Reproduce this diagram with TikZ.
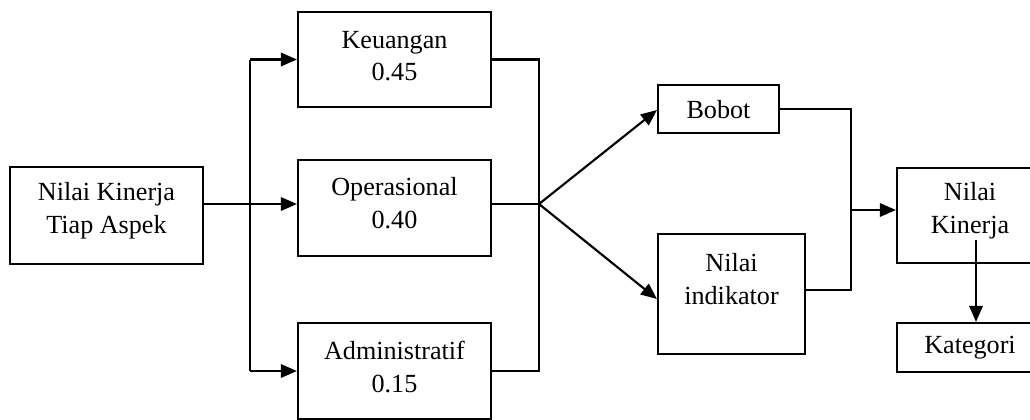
\documentclass[tikz,border=0pt]{standalone}
\usepackage{fontspec}
\setmainfont{Liberation Serif}
\usetikzlibrary{arrows.meta,calc}
\begin{document}
\begin{tikzpicture}[x=0.75pt,y=-0.75pt,
  box/.style={draw,line width=1.6pt,inner sep=0pt,align=center,font=\fontsize{19.6}{24.5}\selectfont},
  txt/.style={inner sep=0pt,align=center,font=\fontsize{19.6}{24.5}\selectfont},
  con/.style={line width=1.6pt},
  arr/.style={line width=1.6pt,-{Triangle[length=12pt,width=10pt]}}]
\useasboundingbox (0,0) rectangle (1030,419);
\clip (0,0) rectangle (1030,419);
\fill[white] (0,0) rectangle (1030,419);
% boxes
\node[box,minimum width=144.75pt,minimum height=72.75pt] (A) at (106.5,215.5) {};
\node[txt] (At) at (106.5,211) {Nilai Kinerja\\Tiap Aspek};
\node[box,minimum width=144.75pt,minimum height=71.25pt] (K) at (394.5,59.5) {};
\node[txt] (Kt) at (394.5,56) {Keuangan\\0.45};
\node[box,minimum width=144.75pt,minimum height=72pt] (O) at (394.5,208) {};
\node[txt] (Ot) at (394.5,203) {Operasional\\0.40};
\node[box,minimum width=144.75pt,minimum height=72pt] (Ad) at (394.5,371) {};
\node[txt] (Adt) at (394.5,367) {Administratif\\0.15};
\node[box,minimum width=90.75pt,minimum height=36pt] (Bo) at (718.5,109) {};
\node[txt] (Bot) at (718.5,110) {Bobot};
\node[box,minimum width=110.25pt,minimum height=90pt] (NI) at (731.5,294) {};
\node[txt] (NIt) at (731.5,279) {Nilai\\indikator};
\node[box,minimum width=109.5pt,minimum height=71.25pt] (NK) at (970,215.5) {};
\node[txt] (NKt) at (970,211) {Nilai\\Kinerja};
\node[box,minimum width=109.5pt,minimum height=36.75pt] (Kat) at (970,347.5) {};
\node[txt] (Katt) at (970,348) {Kategori};
% junctions
\coordinate (b1) at (250,204);
\coordinate (m1) at (539,204);
\coordinate (m2) at (851,210);
\coordinate (nk) at (976,240);
% connectors
\draw[con] (A.east |- b1) -- (b1);
\draw[arr] (b1) -- (O.west |- b1);
\draw[con] (b1 |- K.west) -- (b1 |- Ad.west);
\draw[arr] (b1 |- K.west) -- (K.west);
\draw[arr] (b1 |- Ad.west) -- (Ad.west);
\draw[con] (K.east) -- (m1 |- K.east) -- (m1 |- Ad.east) -- (Ad.east);
\draw[con] (O.east |- m1) -- (m1);
\draw[arr] (m1) -- ($(Bo.west)+(0,1)$);
\draw[arr] (m1) -- ($(NI.west)+(0,5)$);
\draw[con] (Bo.east) -- (m2 |- Bo.east) -- (m2 |- {$(NI.east)+(0,-4)$}) -- ($(NI.east)+(0,-4)$);
\draw[arr] (m2) -- (NK.west |- m2);
\draw[arr] (nk) -- (nk |- Kat.north);
\end{tikzpicture}
\end{document}
